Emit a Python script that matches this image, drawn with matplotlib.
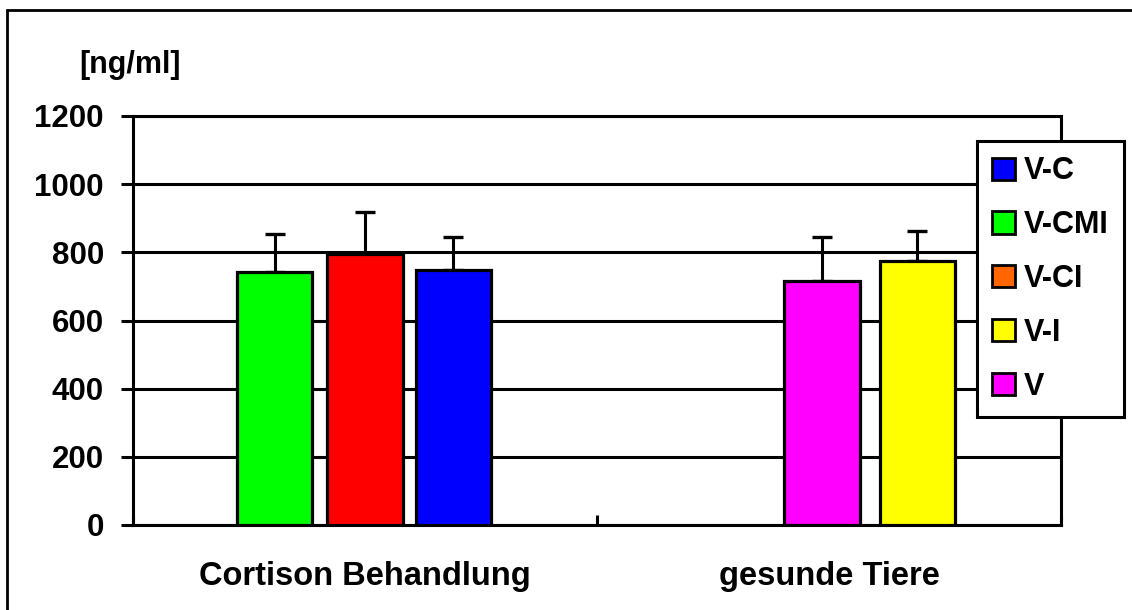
import matplotlib
matplotlib.use("Agg")
import matplotlib.pyplot as plt
from matplotlib.patches import Patch, Rectangle

plt.rcParams['font.family'] = ['Liberation Sans', 'DejaVu Sans']
plt.rcParams['font.weight'] = 'bold'

# ---- data ----
categories = ["Cortison Behandlung", "gesunde Tiere"]
bar_series = ["V-CMI", "V-CI", "V-C", "V", "V-I"]
bar_group = [0, 0, 0, 1, 1]
bar_values = [743, 795, 748, 715, 774]
bar_errors = [110, 124, 96, 131, 90]
bar_colors = ["#00FF00", "#FF0000", "#0000FF", "#FF00FF", "#FFFF00"]

legend_labels = ["V-C", "V-CMI", "V-CI", "V-I", "V"]
legend_colors = ["#0000FF", "#00FF00", "#FF6600", "#FFFF00", "#FF00FF"]

y_ticks = [0, 200, 400, 600, 800, 1000, 1200]
y_unit = "[ng/ml]"

# ---- layout ----
offsets = [-0.195, 0.0, 0.19, -0.015, 0.19]
bar_width = 0.162
W, H = 1132, 610

fig = plt.figure(figsize=(W / 100, H / 100), dpi=100)
ax = fig.add_axes([133 / W, 1 - 525 / H, (1061 - 133) / W, (525 - 116) / H])

xs = [g + 0.5 + o for g, o in zip(bar_group, offsets)]
ax.bar(xs, bar_values, width=bar_width, color=bar_colors, edgecolor="black",
       linewidth=2.3, zorder=3)
ax.errorbar(xs, bar_values, yerr=[[0] * len(bar_errors), bar_errors], fmt="none",
            ecolor="black", elinewidth=2.2, capsize=7.5, capthick=2.4, zorder=2)

ax.set_xlim(0, len(categories))
ax.set_ylim(0, 1200)
ax.set_yticks(y_ticks)
ax.set_yticklabels([str(v) for v in y_ticks], fontsize=22.5, fontweight="bold")
ax.yaxis.grid(True, color="black", linewidth=2.2, zorder=0)
ax.set_axisbelow(True)
ax.tick_params(axis="y", direction="out", length=9, width=2.2, pad=12)

ax.set_xticks(range(len(categories) + 1))
ax.set_xticklabels([])
ax.tick_params(axis="x", which="major", direction="in", length=7, width=2.2)
ax.set_xticks([i + 0.5 for i in range(len(categories))], minor=True)
ax.set_xticklabels(categories, minor=True, fontsize=23.5, fontweight="bold")
ax.tick_params(axis="x", which="minor", length=0, pad=26)

for s in ax.spines.values():
    s.set_linewidth(2.2)
    s.set_color("black")

handles = [Patch(facecolor=c, edgecolor="black", linewidth=2.0) for c in legend_colors]
leg = ax.legend(handles, legend_labels, loc="upper left",
                bbox_to_anchor=(977 / W, 1 - 141 / H), bbox_transform=fig.transFigure,
                borderaxespad=0, fancybox=False, framealpha=1, edgecolor="black",
                prop={"size": 22, "weight": "bold"}, handlelength=0.74, handleheight=0.74,
                handletextpad=0.3, labelspacing=0.78, borderpad=0.5)
leg.get_frame().set_linewidth(2.2)

fig.text(130 / W, 1 - 73 / H, y_unit, fontsize=22, fontweight="bold",
         ha="center", va="baseline")

fig.patches.append(Rectangle((7 / W, -0.1), 1.2, 1 - 10 / H + 0.1, fill=False,
                             edgecolor="black", linewidth=2.0,
                             transform=fig.transFigure, figure=fig))

fig.savefig("out.png", dpi=100)
